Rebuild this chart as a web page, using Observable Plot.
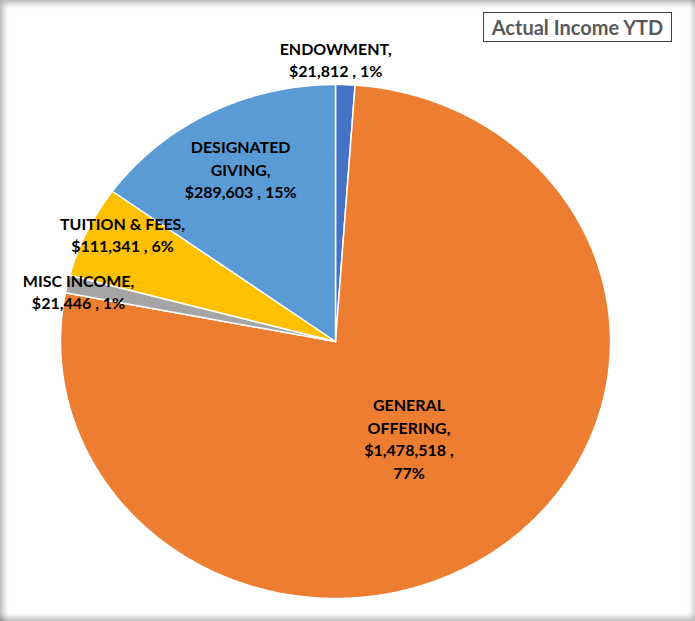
<!DOCTYPE html>
<html>
<head>
<meta charset="utf-8">
<script src="https://cdn.jsdelivr.net/npm/d3@7"></script>
<script src="https://cdn.jsdelivr.net/npm/@observablehq/plot@0.6"></script>
<style>
  html, body { margin: 0; padding: 0; background: #fff; }
  #wrap { position: relative; width: 695px; height: 621px; overflow: hidden; background: #fff; }
  #title { position: absolute; left: 483px; top: 12px; width: 187px; height: 28px;
    border: 1px solid #3f3f3f; font-family: Lato, "Open Sans", sans-serif; font-weight: 700;
    font-size: 20px; color: #595959; line-height: 28px; text-align: center; background: #fff; }
  #shade { position: absolute; left: 0; top: 0; width: 695px; height: 621px; pointer-events: none;
    box-shadow: inset 5px 5px 6px -2px rgba(0,0,0,0.3), inset -3px -5px 6px -2px rgba(0,0,0,0.3); }
</style>
</head>
<body>
<div id="wrap"><div id="chart"></div><div id="title">Actual Income YTD</div><div id="shade"></div></div>
<script>
// Data (clockwise from 12 o'clock)
const categories = ["ENDOWMENT", "GENERAL OFFERING", "MISC INCOME", "TUITION & FEES", "DESIGNATED GIVING"];
const values = [21812, 1478518, 21446, 111341, 289603];
const colors = ["#4472C4", "#ED7D31", "#A5A5A5", "#FFC000", "#5B9BD5"];

// Label layout (radial factor of label centre, wrap width in characters)
const labelRadius = [1.10, 0.46, 0.955, 0.88, 0.757];
const labelAngleShift = [-2, 2, -1, 3, 0];
const wrapChars = [14, 12, 14, 16, 14];

const total = d3.sum(values);
const fmt = d3.format(",");

function wrap(text, width) {
  const words = text.split(" ");
  const lines = [];
  let cur = "";
  for (const w of words) {
    if (!cur) cur = w;
    else if ((cur + " " + w).length <= width) cur += " " + w;
    else { lines.push(cur); cur = w; }
  }
  if (cur) lines.push(cur);
  return lines.join("\n");
}

// Slice polygons
const slicePts = [];
const labels = [];
let acc = 0;
categories.forEach((name, i) => {
  const a0 = acc / total * 2 * Math.PI;
  acc += values[i];
  const a1 = acc / total * 2 * Math.PI;
  const n = Math.max(2, Math.ceil((a1 - a0) / (Math.PI / 360)));
  slicePts.push({name, x: 0, y: 0});
  for (let k = 0; k <= n; k++) {
    const a = a0 + (a1 - a0) * k / n;
    slicePts.push({name, x: Math.sin(a), y: Math.cos(a)});
  }
  slicePts.push({name, x: 0, y: 0});
  const am = (a0 + a1) / 2 + labelAngleShift[i] * Math.PI / 180;
  const r = labelRadius[i];
  const pct = Math.round(values[i] / total * 100) + "%";
  labels.push({
    x: r * Math.sin(am), y: r * Math.cos(am),
    text: wrap(name + ", $" + fmt(values[i]) + " , " + pct, wrapChars[i])
  });
});

const cx = 335, cy = 341, rx = 275, ry = 257;
const chart = Plot.plot({
  width: 695,
  height: 621,
  margin: 0,
  x: {domain: [-1, 1], range: [cx - rx, cx + rx], axis: null},
  y: {domain: [-1, 1], range: [cy + ry, cy - ry], axis: null},
  color: {domain: categories, range: colors},
  style: {background: "transparent"},
  marks: [
    Plot.line(slicePts, {x: "x", y: "y", z: "name", fill: "name", stroke: "white", strokeWidth: 1.5, curve: "linear"}),
    Plot.text(labels, {x: "x", y: "y", text: "text", fill: "#000", fontSize: 16, fontWeight: 700,
      fontFamily: "Lato, 'Open Sans', sans-serif", lineHeight: 1.4})
  ]
});
document.getElementById("chart").appendChild(chart);
</script>
</body>
</html>
